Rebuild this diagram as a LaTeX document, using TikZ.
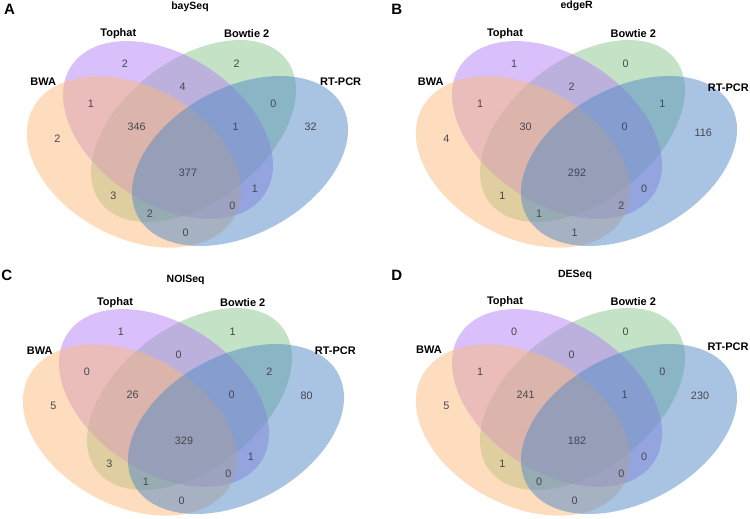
\documentclass[tikz,border=0pt]{standalone}
\usepackage{fontspec}
\setmainfont{Liberation Sans}
\definecolor{cOr}{RGB}{251,187,125}
\definecolor{cPu}{RGB}{179,129,245}
\definecolor{cGr}{RGB}{137,197,139}
\definecolor{cBl}{RGB}{81,137,197}
\definecolor{numc}{RGB}{70,70,78}
\tikzset{
  setfill/.style={fill=#1, fill opacity=0.5},
  num/.style={font=\fontsize{10.8}{12}\selectfont, text=numc, inner sep=0pt},
  cat/.style={font=\fontsize{11}{13}\selectfont\bfseries, inner sep=0pt},
  ttl/.style={font=\fontsize{10.5}{13}\selectfont\bfseries, inner sep=0pt},
  plet/.style={font=\fontsize{15}{17}\selectfont\bfseries, inner sep=0pt},
}
% four set ellipses (green, purple, orange, blue order)
\newcommand\vennellipses{%
  \fill[setfill=cGr, rotate around={37.6:(193.5,131)}] (193.5,131) ellipse [x radius=117.2pt, y radius=71pt];
  \fill[setfill=cPu, rotate around={-33.5:(168,130)}] (168,130) ellipse [x radius=116pt, y radius=74pt];
  \fill[setfill=cOr, rotate around={-28:(134,162)}] (134,162) ellipse [x radius=114.5pt, y radius=75.5pt];
  \fill[setfill=cBl, rotate around={28.4:(240,161)}] (240,161) ellipse [x radius=116.2pt, y radius=73.4pt];
}
% region counts: T, Bw, TB, WT, BR, W, WTB, TBR
\newcommand\vennnumsA[8]{%
  \node[num] (\pfx-T)   at (125,64)     {#1};
  \node[num] (\pfx-Bw)  at (236.7,64)   {#2};
  \node[num] (\pfx-TB)  at (182.7,86.7) {#3};
  \node[num] (\pfx-WT)  at (91,104)     {#4};
  \node[num] (\pfx-BR)  at (273.3,103.3){#5};
  \node[num] (\pfx-W)   at (57.3,138.3) {#6};
  \node[num] (\pfx-WTB) at (136.7,126.7){#7};
  \node[num] (\pfx-TBR) at (235.7,126.7){#8};
}
% all, WB, TR, WBR, WTR, WR
\newcommand\vennnumsB[6]{%
  \node[num] (\pfx-all) at (188,173)    {#1};
  \node[num] (\pfx-WB)  at (113.3,195.7){#2};
  \node[num] (\pfx-TR)  at (255,189)    {#3};
  \node[num] (\pfx-WBR) at (150,213.3)  {#4};
  \node[num] (\pfx-WTR) at (232.3,206)  {#5};
  \node[num] (\pfx-WR)  at (185.7,232.7){#6};
}
\begin{document}
\begin{tikzpicture}[x=1pt,y=-1pt]
\useasboundingbox (0,0) rectangle (750,519);
% ---------- Panel A ----------
\begin{scope}
  \vennellipses
  \def\pfx{A}
  \vennnumsA{2}{2}{4}{1}{0}{2}{346}{1}
  \vennnumsB{377}{3}{1}{2}{0}{0}
  \node[num] (A-R) at (310.7,126.7) {32};
\end{scope}
\node[plet] (A-let) at (9.5,9.5) {A};
\node[ttl] (A-ttl) at (190,6.7) {baySeq};
\node[cat] (A-c1) at (43.3,81.7) {BWA};
\node[cat] (A-c2) at (118.3,33.3) {Tophat};
\node[cat] (A-c3) at (246.7,33.3) {Bowtie 2};
\node[cat] (A-c4) at (340.7,81.7) {RT-PCR};
% ---------- Panel B ----------
\begin{scope}[shift={(389,0)}]
  \vennellipses
  \def\pfx{B}
  \vennnumsA{1}{0}{2}{1}{1}{4}{30}{0}
  \vennnumsB{292}{1}{0}{1}{2}{1}
  \node[num] (B-R) at (314.3,132.7) {116};
\end{scope}
\node[plet] (B-let) at (396.7,9.7) {B};
\node[ttl] (B-ttl) at (576.7,6) {edgeR};
\node[cat] (B-c1) at (430.8,81.8) {BWA};
\node[cat] (B-c2) at (505,33.3) {Tophat};
\node[cat] (B-c3) at (633.3,33.3) {Bowtie 2};
\node[cat] (B-c4) at (728.3,87.3) {RT-PCR};
% ---------- Panel C ----------
\begin{scope}[shift={(-4,268)}]
  \vennellipses
  \def\pfx{C}
  \vennnumsA{1}{1}{0}{0}{2}{5}{26}{0}
  \vennnumsB{329}{3}{1}{1}{0}{0}
  \node[num] (C-R) at (310.7,127.7) {80};
\end{scope}
\node[plet] (C-let) at (6.7,275.7) {C};
\node[ttl] (C-ttl) at (185.7,279.5) {NOISeq};
\node[cat] (C-c1) at (39.7,350.8) {BWA};
\node[cat] (C-c2) at (115,302.3) {Tophat};
\node[cat] (C-c3) at (242.7,302.3) {Bowtie 2};
\node[cat] (C-c4) at (335.3,350.7) {RT-PCR};
% ---------- Panel D ----------
\begin{scope}[shift={(389,268)}]
  \vennellipses
  \def\pfx{D}
  \vennnumsA{0}{0}{0}{1}{0}{5}{241}{1}
  \vennnumsB{182}{1}{0}{0}{0}{0}
  \node[num] (D-R) at (311,127.7) {230};
\end{scope}
\node[plet] (D-let) at (396.7,275) {D};
\node[ttl] (D-ttl) at (575,275) {DESeq};
\node[cat] (D-c1) at (429,350) {BWA};
\node[cat] (D-c2) at (505,301.7) {Tophat};
\node[cat] (D-c3) at (633.3,301.7) {Bowtie 2};
\node[cat] (D-c4) at (728,346.3) {RT-PCR};
\end{tikzpicture}
\end{document}
